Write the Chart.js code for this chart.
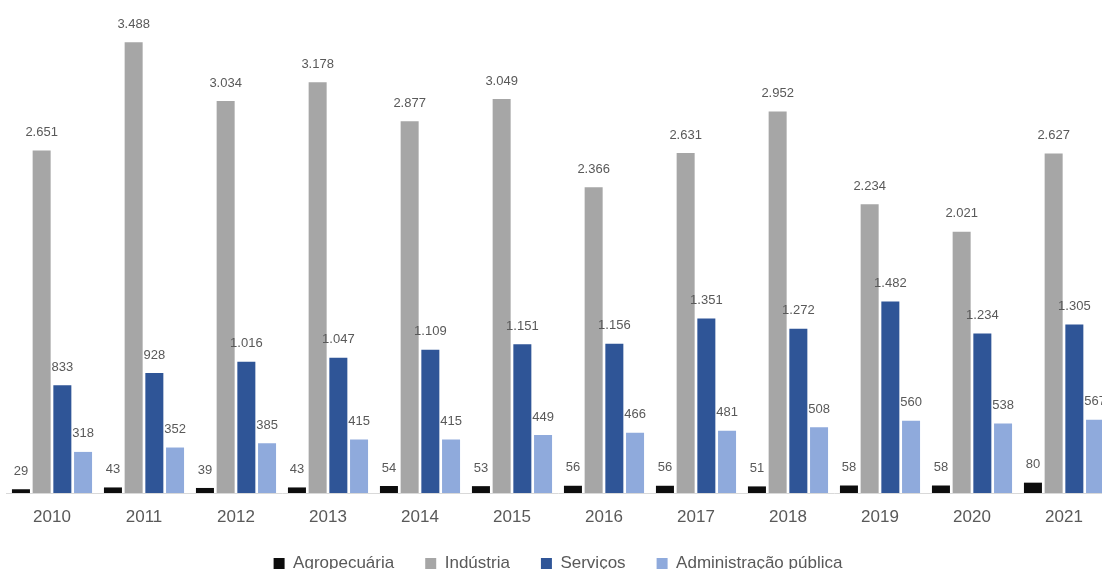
<!DOCTYPE html>
<html><head><meta charset="utf-8">
<script src="https://cdn.jsdelivr.net/npm/chart.js@4"></script>
<style>html,body{margin:0;padding:0;overflow:hidden;background:#fff;width:1102px;height:569px}
#wrap{position:absolute;left:0;top:0;width:1110px;height:569px}</style>
</head><body><div id="wrap"><canvas id="c" width="1110" height="569"></canvas></div>
<script>
const categories = ['2010','2011','2012','2013','2014','2015','2016','2017','2018','2019','2020','2021'];
const agropecuaria = [29,43,39,43,54,53,56,56,51,58,58,80];
const industria = [2651,3488,3034,3178,2877,3049,2366,2631,2952,2234,2021,2627];
const servicos = [833,928,1016,1047,1109,1151,1156,1351,1272,1482,1234,1305];
const administracao = [318,352,385,415,415,449,466,481,508,560,538,567];
const seriesNames = ['Agropecuária','Indústria','Serviços','Administração pública'];
const seriesColors = ['#0d0d0d','#a6a6a6','#2f5597','#8faadc'];

function fmt(v){return String(v).replace(/\B(?=(\d{3})+(?!\d))/g,'.');}

const labelPlugin = {
  id:'valueLabels',
  afterDatasetsDraw(chart){
    const ctx = chart.ctx;
    ctx.save();
    ctx.font = '13px "Liberation Sans", sans-serif';
    ctx.fillStyle = '#595959';
    ctx.textAlign = 'center';
    ctx.textBaseline = 'middle';
    chart.data.datasets.forEach((ds,i)=>{
      chart.getDatasetMeta(i).data.forEach((bar,j)=>{
        ctx.fillText(fmt(ds.data[j]), bar.x, bar.y - 18);
      });
    });
    ctx.restore();
  }
};

const seriesData = [agropecuaria, industria, servicos, administracao];
new Chart(document.getElementById('c'), {
  type:'bar',
  data:{
    labels:categories,
    datasets: seriesData.map((d,i)=>({label:seriesNames[i], data:d, backgroundColor:seriesColors[i], borderWidth:0, categoryPercentage:0.9, barPercentage:0.87}))
  },
  options:{
    responsive:false, animation:false,
    layout:{padding:{left:6,right:0,top:2,bottom:-13}},
    scales:{
      x:{grid:{display:false, drawTicks:false}, border:{display:true,color:'#d9d9d9',width:1},
         ticks:{color:'#595959', font:{size:17, family:'"Liberation Sans", sans-serif'}, padding:14},
         afterFit:(s)=>{s.height = 31;}},
      y:{display:false, min:0, max:3800}
    },
    plugins:{
      legend:{position:'bottom', labels:{color:'#595959', font:{size:17, family:'"Liberation Sans", sans-serif'}, usePointStyle:true, pointStyle:'rect', boxWidth:11, boxHeight:11, padding:31}},
      tooltip:{enabled:false}
    }
  },
  plugins:[labelPlugin]
});
</script></body></html>
